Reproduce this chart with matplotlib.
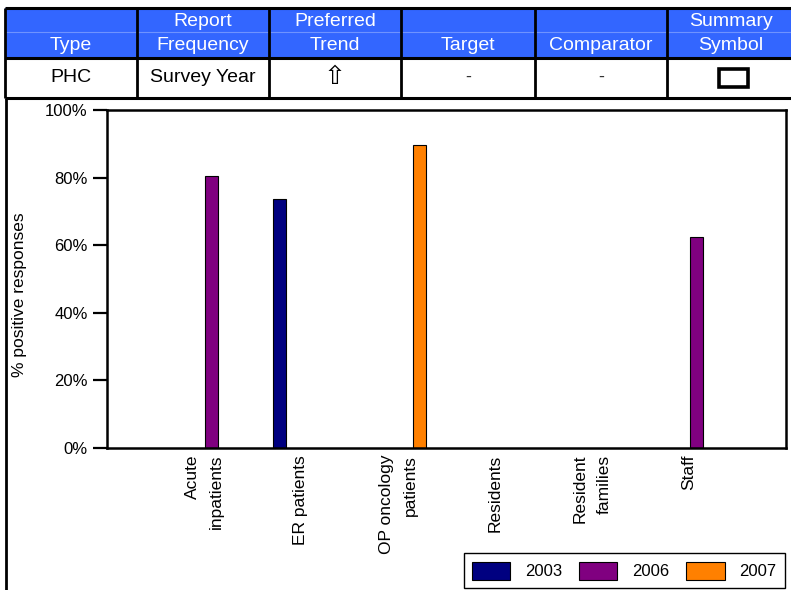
import numpy as np
import matplotlib
matplotlib.use("Agg")
import matplotlib.pyplot as plt
from matplotlib.patches import Rectangle, Patch

W, H = 791, 590

# ---- chart data ----
categories = ["Acute\ninpatients", "ER patients", "OP oncology\npatients",
              "Residents", "Resident\nfamilies", "Staff"]
years = ["2003", "2006", "2007"]
pct_2003 = [np.nan, 73.6, np.nan, np.nan, np.nan, np.nan]
pct_2006 = [80.4, np.nan, np.nan, np.nan, np.nan, 62.3]
pct_2007 = [np.nan, np.nan, 89.6, np.nan, np.nan, np.nan]
series_colors = ["#000080", "#800080", "#ff8000"]
y_ticks = [0, 20, 40, 60, 80, 100]

# ---- indicator header table ----
header_cols = ["Type", "Report\nFrequency", "Preferred\nTrend", "Target",
               "Comparator", "Summary\nSymbol"]
row_vals = ["PHC", "Survey Year", "\u21e7", "-", "-", ""]

narrow = ["Liberation Sans", "DejaVu Sans"]
plt.rcParams["font.family"] = ["Liberation Sans", "DejaVu Sans"]

fig = plt.figure(figsize=(W / 100, H / 100), dpi=100)
fig.patch.set_facecolor("white")

# background canvas in pixel units for the table and frame
bg = fig.add_axes([0, 0, 1, 1], zorder=0)
bg.set_xlim(0, W)
bg.set_ylim(H, 0)
bg.axis("off")

col_edges = [5, 137, 269, 401, 535, 667, W + 5]
top, mid, bot = 8, 57.5, 97.5
blue = "#3366ff"
bg.add_patch(Rectangle((5, top), W, mid - top, facecolor=blue, edgecolor="none"))
bg.plot([5, W], [32, 32], color="#6f93ff", lw=0.8)
for yy in (top, mid, bot):
    bg.plot([5, W], [yy, yy], color="black", lw=2.2, solid_capstyle="butt")
for xx in col_edges[:-1]:
    bg.plot([xx, xx], [top, bot], color="black", lw=2.0, solid_capstyle="butt")
# left frame line running down the chart area
bg.plot([5.5, 5.5], [bot, H], color="black", lw=2.0, solid_capstyle="butt")

for i, label in enumerate(header_cols):
    cx = (col_edges[i] + col_edges[i + 1]) / 2 if i < 5 else (667 + W) / 2 + 2
    lines = label.split("\n")
    ys = [45] if len(lines) == 1 else [21, 45]
    for ln, yy in zip(lines, ys):
        bg.text(cx, yy, ln, color="white", fontsize=14, family=narrow,
                ha="center", va="center")

for i, val in enumerate(row_vals):
    cx = (col_edges[i] + col_edges[i + 1]) / 2 if i < 5 else (667 + W) / 2 + 2
    if val == "\u21e7":
        bg.text(cx, 77, val, fontsize=19, family=["DejaVu Sans"],
                ha="center", va="center", color="black")
    elif val == "-":
        bg.text(cx, 77, val, fontsize=13, family=narrow,
                ha="center", va="center", color="#333333")
    elif val:
        bg.text(cx, 78, val, fontsize=14, family=narrow,
                ha="center", va="center", color="black")
# summary symbol: hollow rectangle
bg.add_patch(Rectangle((719, 68.5), 29, 18, facecolor="white",
                       edgecolor="black", lw=2.6))

# ---- bar chart ----
ax = fig.add_axes([107 / W, 1 - 448 / H, (786 - 107) / W, (448 - 110) / H], zorder=1)
ax.set_facecolor("white")
x = np.arange(1, len(categories) + 1)
slot_w = 0.147
slots = [0, 2, 3]  # slot positions in each category group
for vals, color, slot, yr in zip([pct_2003, pct_2006, pct_2007], series_colors, slots, years):
    ax.bar(x + (slot - 1.5) * slot_w, vals, width=0.132, color=color,
           edgecolor="black", linewidth=0.8, label=yr)

ax.set_xlim(0, 7)
ax.set_ylim(0, 100)
ax.set_yticks(y_ticks)
ax.set_yticklabels([f"{v}%" for v in y_ticks], fontsize=12)
ax.tick_params(axis="y", direction="out", length=10, width=1.6, pad=4)
ax.set_xticks(x)
ax.set_xticklabels(categories, rotation=90, fontsize=12.5, ha="center", va="top",
                   multialignment="right", linespacing=1.75)
ax.tick_params(axis="x", length=0, pad=5)
for sp in ax.spines.values():
    sp.set_linewidth(1.8)
    sp.set_color("black")

fig.text(20 / W, 1 - 295 / H, "% positive responses", rotation=90,
         fontsize=12.5, ha="center", va="center")

handles = [Patch(facecolor=c, edgecolor="black", linewidth=0.8) for c in series_colors]
leg = fig.legend(handles, years, ncol=3, loc="lower right",
                 bbox_to_anchor=(785 / W, 1 - 588 / H), fontsize=12,
                 frameon=True, fancybox=False, edgecolor="black", framealpha=1,
                 handlelength=2.3, handleheight=1.3, handletextpad=0.9,
                 columnspacing=1.0, borderpad=0.5, borderaxespad=0)
leg.get_frame().set_linewidth(1.0)

fig.savefig("out.png", dpi=100)
